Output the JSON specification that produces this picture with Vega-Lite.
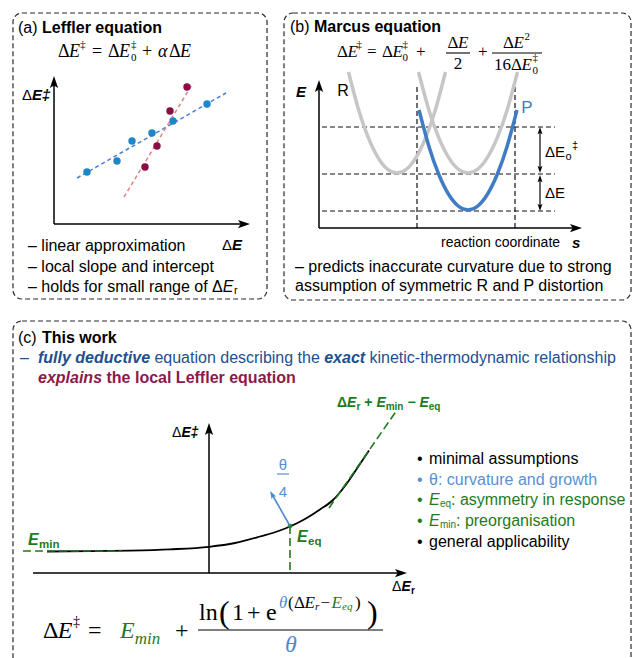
{
"$schema":"https://vega.github.io/schema/vega-lite/v6.json",
"width":632,"height":658,"autosize":{"type":"none"},"padding":0,"background":"#ffffff",
"config":{"view":{"stroke":null}},
"encoding":{
 "x":{"field":"x","type":"quantitative","scale":{"domain":[0,632],"nice":false,"zero":false},"axis":null},
 "y":{"field":"y","type":"quantitative","scale":{"domain":[0,658],"reverse":true,"nice":false,"zero":false},"axis":null}
},
"datasets":{
 "box":[{"x":13,"x2":267,"y":13,"y2":299},{"x":284,"x2":631,"y":13,"y2":300},{"x":13,"x2":631,"y":321,"y2":690}],
 "axis":[{"x":54,"y":224,"x2":54,"y2":82},{"x":54,"y":224,"x2":244,"y2":224},{"x":319,"y":228,"x2":319,"y2":86},{"x":319,"y":228,"x2":576,"y2":228},{"x":209,"y":573,"x2":209,"y2":429},{"x":33,"y":573,"x2":401,"y2":573}],
 "dbl":[{"x":540,"y":131,"x2":540,"y2":170},{"x":540,"y":178,"x2":540,"y2":208}],
 "hUp":[{"x":54,"y":76},{"x":319,"y":80},{"x":209,"y":423}],
 "hRight":[{"x":250,"y":224},{"x":582,"y":228},{"x":407,"y":573}],
 "hsUp":[{"x":540,"y":127},{"x":540,"y":175}],
 "hsDown":[{"x":540,"y":173},{"x":540,"y":211}],
 "hTheta":[{"x":270,"y":491}],
 "bdash":[{"x":322,"y":127,"x2":555,"y2":127},{"x":322,"y":174,"x2":555,"y2":174},{"x":322,"y":211,"x2":555,"y2":211},{"x":417,"y":87,"x2":417,"y2":228},{"x":515,"y":87,"x2":515,"y2":228}],
 "fitB":[{"x":77,"y":178,"x2":226,"y2":93}],
 "fitR":[{"x":124,"y":197,"x2":193,"y2":83}],
 "ptB":[{"x":87,"y":172},{"x":117,"y":161},{"x":132,"y":141},{"x":152,"y":133},{"x":173,"y":121},{"x":207,"y":104}],
 "ptR":[{"x":145,"y":167},{"x":157,"y":146},{"x":170,"y":111},{"x":187,"y":87}],
 "gR":[{"x":348.5,"y":72},{"x":358.2,"y":108.4},{"x":367.9,"y":136.6},{"x":377.6,"y":156.8},{"x":387.3,"y":169},{"x":397,"y":173},{"x":406.7,"y":169},{"x":416.4,"y":156.8},{"x":426.1,"y":136.6},{"x":435.8,"y":108.4},{"x":445.5,"y":72}],
 "gP":[{"x":418.5,"y":72},{"x":428.4,"y":108.4},{"x":438.3,"y":136.6},{"x":448.2,"y":156.8},{"x":458.1,"y":169},{"x":468,"y":173},{"x":477.9,"y":169},{"x":487.8,"y":156.8},{"x":497.7,"y":136.6},{"x":507.6,"y":108.4},{"x":517.5,"y":72}],
 "bP":[{"x":419,"y":110},{"x":428.8,"y":146},{"x":438.6,"y":174},{"x":448.4,"y":194},{"x":458.2,"y":206},{"x":468,"y":210},{"x":477.8,"y":206},{"x":487.6,"y":194},{"x":497.4,"y":174},{"x":507.2,"y":146},{"x":517,"y":110}],
 "curve":[{"x":47,"y":551.5},{"x":90,"y":551.2},{"x":130,"y":550.6},{"x":170,"y":549.3},{"x":209,"y":546.8},{"x":235,"y":543},{"x":260,"y":536.5},{"x":280,"y":530.5},{"x":290,"y":526.5},{"x":305,"y":519},{"x":320,"y":509.5},{"x":333,"y":500},{"x":345,"y":486},{"x":357,"y":468.5},{"x":369,"y":450.5}],
 "gdash":[{"x":23,"y":551,"x2":122,"y2":551},{"x":290,"y":526,"x2":290,"y2":573},{"x":329,"y":508,"x2":397,"y2":410}],
 "dot":[{"x":290,"y":526}],
 "thArr":[{"x":290,"y":526,"x2":273,"y2":496}],
 "bars":[{"x":446,"y":53,"x2":470,"y2":53},{"x":492,"y":53,"x2":542,"y2":53},{"x":198,"y":630,"x2":383,"y2":630}],
 "thBar":[{"x":277,"y":474,"x2":289,"y2":474}],
 "s16":[{"x":18,"y":28,"t":"(a)"},{"x":290,"y":27,"t":"(b)"},{"x":18,"y":338,"t":"(c)"},{"x":28,"y":246,"t":"– linear approximation"},{"x":28,"y":267,"t":"– local slope and intercept"},{"x":28,"y":287,"t":"– holds for small range of Δ"},{"x":295,"y":267,"t":"– predicts inaccurate curvature due to strong"},{"x":295,"y":286,"t":"assumption of symmetric R and P distortion"},{"x":417,"y":459,"t":"•"},{"x":429,"y":459,"t":"minimal assumptions"},{"x":417,"y":542,"t":"•"},{"x":429,"y":542,"t":"general applicability"}],
 "s16b":[{"x":42,"y":28,"t":"Leffler equation"},{"x":314,"y":27,"t":"Marcus equation"},{"x":42,"y":338,"t":"This work"}],
 "s16i":[{"x":222.7,"y":287,"t":"E"}],
 "s11":[{"x":234,"y":291,"t":"r"},{"x":565.5,"y":157,"t":"o"},{"x":572,"y":146,"t":"‡"}],
 "s15":[{"x":545,"y":152,"t":"ΔE"},{"x":545,"y":193,"t":"ΔE"},{"x":22,"y":95,"t":"Δ"},{"x":222,"y":245,"t":"Δ"}],
 "s14":[{"x":441,"y":243,"t":"reaction coordinate"},{"x":172,"y":433,"t":"Δ"},{"x":392,"y":587,"t":"Δ"}],
 "sBI15":[{"x":296,"y":92,"t":"E"},{"x":572,"y":243,"t":"s"},{"x":32,"y":95,"t":"E‡"},{"x":232,"y":245,"t":"E"}],
 "sBI14":[{"x":181.5,"y":433,"t":"E‡"},{"x":401.5,"y":587,"t":"E"}],
 "sB10":[{"x":411,"y":591,"t":"r"}],
 "cBlack":[{"x":343,"y":91,"t":"R"}],
 "gBI16":[{"x":28,"y":540,"t":"E"},{"x":297,"y":537,"t":"E"}],
 "gB11":[{"x":39,"y":545,"t":"min"},{"x":308,"y":542,"t":"eq"}],
 "gB14":[{"x":337,"y":403,"t":"Δ"},{"x":364.3,"y":403,"t":"+"},{"x":407.4,"y":403,"t":"−"}],
 "gBI14":[{"x":347,"y":403,"t":"E"},{"x":376.4,"y":403,"t":"E"},{"x":419.5,"y":403,"t":"E"}],
 "gB10":[{"x":356.5,"y":407,"t":"r"},{"x":385.7,"y":407,"t":"min"},{"x":428.8,"y":407,"t":"eq"}],
 "gR16":[{"x":417,"y":500,"t":"•"},{"x":417,"y":521,"t":"•"},{"x":451,"y":500,"t":": asymmetry in response"},{"x":456,"y":521,"t":": preorganisation"}],
 "gI16":[{"x":429,"y":500,"t":"E"},{"x":429,"y":521,"t":"E"}],
 "gR10":[{"x":440,"y":504,"t":"eq"},{"x":440,"y":525,"t":"min"}],
 "lbR16":[{"x":417,"y":480,"t":"•"},{"x":429,"y":480,"t":"θ: curvature and growth"}],
 "lbC15":[{"x":283,"y":465,"t":"θ"},{"x":283,"y":492,"t":"4"}],
 "pLab":[{"x":527,"y":108,"t":"P"}],
 "nR16":[{"x":20,"y":358,"t":"–"},{"x":154.4,"y":358,"t":"equation describing the"},{"x":369.5,"y":358,"t":"kinetic-thermodynamic relationship"}],
 "nBI16":[{"x":38,"y":358,"t":"fully deductive"},{"x":324.2,"y":358,"t":"exact"}],
 "mBI16":[{"x":38,"y":378,"t":"explains"}],
 "mB16":[{"x":106.5,"y":378,"t":"the local Leffler equation"}],
 "sU18":[{"x":58,"y":52,"t":"Δ"},{"x":92,"y":52,"t":"="},{"x":108,"y":52,"t":"Δ"},{"x":142,"y":52,"t":"+"},{"x":169,"y":52,"t":"Δ"}],
 "sI18":[{"x":69,"y":52,"t":"E"},{"x":119,"y":52,"t":"E"},{"x":158,"y":52,"t":"α"},{"x":180,"y":52,"t":"E"}],
 "sU11":[{"x":80,"y":45,"t":"‡"},{"x":131,"y":45,"t":"‡"},{"x":131,"y":58,"t":"0"},{"x":356.5,"y":45,"t":"‡"},{"x":402.5,"y":45,"t":"‡"},{"x":402.5,"y":58,"t":"0"},{"x":524.5,"y":37,"t":"2"},{"x":532.5,"y":58,"t":"‡"},{"x":532.5,"y":71,"t":"0"}],
 "sU17":[{"x":337,"y":52,"t":"Δ"},{"x":367,"y":52,"t":"="},{"x":382,"y":52,"t":"Δ"},{"x":416,"y":52,"t":"+"},{"x":478,"y":52,"t":"+"},{"x":447.6,"y":43,"t":"Δ"},{"x":453.8,"y":64,"t":"2"},{"x":503,"y":43,"t":"Δ"},{"x":494,"y":65,"t":"16"},{"x":511,"y":65,"t":"Δ"}],
 "sI17":[{"x":347.4,"y":52,"t":"E"},{"x":392.4,"y":52,"t":"E"},{"x":458,"y":43,"t":"E"},{"x":513.4,"y":43,"t":"E"},{"x":521.4,"y":65,"t":"E"}],
 "sU24":[{"x":43,"y":631,"t":"Δ"},{"x":88,"y":631,"t":"="},{"x":175,"y":631,"t":"+"},{"x":199,"y":613,"t":"ln"},{"x":232,"y":613,"t":"1"},{"x":247,"y":613,"t":"+"},{"x":266,"y":613,"t":"e"}],
 "sI24":[{"x":57.7,"y":631,"t":"E"}],
 "sU14":[{"x":73,"y":622,"t":"‡"}],
 "gI24":[{"x":120,"y":631,"t":"E"}],
 "gI17":[{"x":134.7,"y":639,"t":"min"}],
 "sU32":[{"x":219,"y":613,"t":"("},{"x":367,"y":613,"t":")"}],
 "sU16e":[{"x":288,"y":603,"t":"("},{"x":294,"y":603,"t":"Δ"},{"x":320.5,"y":603,"t":"−"},{"x":355,"y":603,"t":")"}],
 "sI16e":[{"x":304.4,"y":603,"t":"E"}],
 "sI11e":[{"x":315,"y":607,"t":"r"}],
 "gI16e":[{"x":331.5,"y":603,"t":"E"}],
 "gI11e":[{"x":342,"y":607,"t":"eq"}],
 "bI16e":[{"x":279,"y":603,"t":"θ"}],
 "bI24":[{"x":285,"y":645,"t":"θ"}]
},
"layer":[
 {"data":{"name":"box"},"mark":{"type":"rect","filled":false,"color":"#2a2a2a","strokeWidth":1.2,"strokeDash":[5,3],"cornerRadius":9,"clip":true},"encoding":{"x2":{"field":"x2"},"y2":{"field":"y2"}}},
 {"data":{"name":"bdash"},"mark":{"type":"rule","color":"#111","strokeWidth":1.2,"strokeDash":[5,3]},"encoding":{"x2":{"field":"x2"},"y2":{"field":"y2"}}},
 {"data":{"name":"gR"},"mark":{"type":"line","color":"#c6c6c6","strokeWidth":3.5,"interpolate":"natural"},"encoding":{}},
 {"data":{"name":"gP"},"mark":{"type":"line","color":"#c6c6c6","strokeWidth":3.5,"interpolate":"natural"},"encoding":{}},
 {"data":{"name":"bP"},"mark":{"type":"line","color":"#3f7cc4","strokeWidth":3.5,"interpolate":"natural"},"encoding":{}},
 {"data":{"name":"fitB"},"mark":{"type":"rule","color":"#4b7fd2","strokeWidth":1.5,"strokeDash":[4,3]},"encoding":{"x2":{"field":"x2"},"y2":{"field":"y2"}}},
 {"data":{"name":"fitR"},"mark":{"type":"rule","color":"#e08585","strokeWidth":1.5,"strokeDash":[4,3]},"encoding":{"x2":{"field":"x2"},"y2":{"field":"y2"}}},
 {"data":{"name":"ptB"},"mark":{"type":"circle","size":55,"color":"#1b87c9","opacity":1},"encoding":{}},
 {"data":{"name":"ptR"},"mark":{"type":"circle","size":55,"color":"#8a0e46","opacity":1},"encoding":{}},
 {"data":{"name":"axis"},"mark":{"type":"rule","color":"#000","strokeWidth":1.5},"encoding":{"x2":{"field":"x2"},"y2":{"field":"y2"}}},
 {"data":{"name":"dbl"},"mark":{"type":"rule","color":"#000","strokeWidth":1.2},"encoding":{"x2":{"field":"x2"},"y2":{"field":"y2"}}},
 {"data":{"name":"hUp"},"mark":{"type":"point","shape":"M0,0L0.55,1.6L0,1.25L-0.55,1.6Z","size":225,"filled":true,"color":"#000","opacity":1,"angle":0},"encoding":{}},
 {"data":{"name":"hRight"},"mark":{"type":"point","shape":"M0,0L0.55,1.6L0,1.25L-0.55,1.6Z","size":225,"filled":true,"color":"#000","opacity":1,"angle":90},"encoding":{}},
 {"data":{"name":"hsUp"},"mark":{"type":"point","shape":"M0,0L0.55,1.6L0,1.25L-0.55,1.6Z","size":81,"filled":true,"color":"#000","opacity":1,"angle":0},"encoding":{}},
 {"data":{"name":"hsDown"},"mark":{"type":"point","shape":"M0,0L0.55,1.6L0,1.25L-0.55,1.6Z","size":81,"filled":true,"color":"#000","opacity":1,"angle":180},"encoding":{}},
 {"data":{"name":"curve"},"mark":{"type":"line","color":"#000","strokeWidth":1.8,"interpolate":"monotone"},"encoding":{}},
 {"data":{"name":"gdash"},"mark":{"type":"rule","color":"#1e7b1e","strokeWidth":1.6,"strokeDash":[8,4]},"encoding":{"x2":{"field":"x2"},"y2":{"field":"y2"}}},
 {"data":{"name":"dot"},"mark":{"type":"circle","size":22,"color":"#1e7b1e","opacity":1},"encoding":{}},
 {"data":{"name":"thArr"},"mark":{"type":"rule","color":"#4f8ad0","strokeWidth":1.6},"encoding":{"x2":{"field":"x2"},"y2":{"field":"y2"}}},
 {"data":{"name":"hTheta"},"mark":{"type":"point","shape":"M0,0L0.55,1.6L0,1.25L-0.55,1.6Z","size":100,"filled":true,"color":"#4f8ad0","opacity":1,"angle":330},"encoding":{}},
 {"data":{"name":"bars"},"mark":{"type":"rule","color":"#000","strokeWidth":1.1},"encoding":{"x2":{"field":"x2"},"y2":{"field":"y2"}}},
 {"data":{"name":"thBar"},"mark":{"type":"rule","color":"#5b8fd4","strokeWidth":1.2},"encoding":{"x2":{"field":"x2"},"y2":{"field":"y2"}}},
 {"data":{"name":"s16"},"mark":{"type":"text","align":"left","baseline":"middle","font":"Liberation Sans","fontSize":16,"color":"#000"},"encoding":{"text":{"field":"t"}}},
 {"data":{"name":"s16b"},"mark":{"type":"text","align":"left","baseline":"middle","font":"Liberation Sans","fontSize":16,"fontWeight":"bold","color":"#000"},"encoding":{"text":{"field":"t"}}},
 {"data":{"name":"s16i"},"mark":{"type":"text","align":"left","baseline":"middle","font":"Liberation Sans","fontSize":16,"fontStyle":"italic","color":"#000"},"encoding":{"text":{"field":"t"}}},
 {"data":{"name":"s11"},"mark":{"type":"text","align":"left","baseline":"middle","font":"Liberation Sans","fontSize":11,"color":"#000"},"encoding":{"text":{"field":"t"}}},
 {"data":{"name":"s15"},"mark":{"type":"text","align":"left","baseline":"middle","font":"Liberation Sans","fontSize":15,"color":"#000"},"encoding":{"text":{"field":"t"}}},
 {"data":{"name":"s14"},"mark":{"type":"text","align":"left","baseline":"middle","font":"Liberation Sans","fontSize":14,"color":"#000"},"encoding":{"text":{"field":"t"}}},
 {"data":{"name":"sBI15"},"mark":{"type":"text","align":"left","baseline":"middle","font":"Liberation Sans","fontSize":15,"fontWeight":"bold","fontStyle":"italic","color":"#000"},"encoding":{"text":{"field":"t"}}},
 {"data":{"name":"sBI14"},"mark":{"type":"text","align":"left","baseline":"middle","font":"Liberation Sans","fontSize":14,"fontWeight":"bold","fontStyle":"italic","color":"#000"},"encoding":{"text":{"field":"t"}}},
 {"data":{"name":"sB10"},"mark":{"type":"text","align":"left","baseline":"middle","font":"Liberation Sans","fontSize":10,"fontWeight":"bold","color":"#000"},"encoding":{"text":{"field":"t"}}},
 {"data":{"name":"cBlack"},"mark":{"type":"text","align":"center","baseline":"middle","font":"Liberation Sans","fontSize":16,"color":"#000"},"encoding":{"text":{"field":"t"}}},
 {"data":{"name":"gBI16"},"mark":{"type":"text","align":"left","baseline":"middle","font":"Liberation Sans","fontSize":16,"fontWeight":"bold","fontStyle":"italic","color":"#1e7b1e"},"encoding":{"text":{"field":"t"}}},
 {"data":{"name":"gB11"},"mark":{"type":"text","align":"left","baseline":"middle","font":"Liberation Sans","fontSize":11.5,"fontWeight":"bold","color":"#1e7b1e"},"encoding":{"text":{"field":"t"}}},
 {"data":{"name":"gB14"},"mark":{"type":"text","align":"left","baseline":"middle","font":"Liberation Sans","fontSize":14,"fontWeight":"bold","color":"#1e7b1e"},"encoding":{"text":{"field":"t"}}},
 {"data":{"name":"gBI14"},"mark":{"type":"text","align":"left","baseline":"middle","font":"Liberation Sans","fontSize":14,"fontWeight":"bold","fontStyle":"italic","color":"#1e7b1e"},"encoding":{"text":{"field":"t"}}},
 {"data":{"name":"gB10"},"mark":{"type":"text","align":"left","baseline":"middle","font":"Liberation Sans","fontSize":10,"fontWeight":"bold","color":"#1e7b1e"},"encoding":{"text":{"field":"t"}}},
 {"data":{"name":"gR16"},"mark":{"type":"text","align":"left","baseline":"middle","font":"Liberation Sans","fontSize":16,"color":"#1e7b1e"},"encoding":{"text":{"field":"t"}}},
 {"data":{"name":"gI16"},"mark":{"type":"text","align":"left","baseline":"middle","font":"Liberation Sans","fontSize":16,"fontStyle":"italic","color":"#1e7b1e"},"encoding":{"text":{"field":"t"}}},
 {"data":{"name":"gR10"},"mark":{"type":"text","align":"left","baseline":"middle","font":"Liberation Sans","fontSize":10,"color":"#1e7b1e"},"encoding":{"text":{"field":"t"}}},
 {"data":{"name":"lbR16"},"mark":{"type":"text","align":"left","baseline":"middle","font":"Liberation Sans","fontSize":16,"color":"#5b8fd4"},"encoding":{"text":{"field":"t"}}},
 {"data":{"name":"lbC15"},"mark":{"type":"text","align":"center","baseline":"middle","font":"Liberation Sans","fontSize":15,"color":"#5b8fd4"},"encoding":{"text":{"field":"t"}}},
 {"data":{"name":"pLab"},"mark":{"type":"text","align":"center","baseline":"middle","font":"Liberation Sans","fontSize":17,"color":"#3f7cc4"},"encoding":{"text":{"field":"t"}}},
 {"data":{"name":"nR16"},"mark":{"type":"text","align":"left","baseline":"middle","font":"Liberation Sans","fontSize":16,"color":"#1d4f91"},"encoding":{"text":{"field":"t"}}},
 {"data":{"name":"nBI16"},"mark":{"type":"text","align":"left","baseline":"middle","font":"Liberation Sans","fontSize":16,"fontWeight":"bold","fontStyle":"italic","color":"#1d4f91"},"encoding":{"text":{"field":"t"}}},
 {"data":{"name":"mBI16"},"mark":{"type":"text","align":"left","baseline":"middle","font":"Liberation Sans","fontSize":16,"fontWeight":"bold","fontStyle":"italic","color":"#8b1a4c"},"encoding":{"text":{"field":"t"}}},
 {"data":{"name":"mB16"},"mark":{"type":"text","align":"left","baseline":"middle","font":"Liberation Sans","fontSize":16,"fontWeight":"bold","color":"#8b1a4c"},"encoding":{"text":{"field":"t"}}},
 {"data":{"name":"sU18"},"mark":{"type":"text","align":"left","baseline":"middle","font":"Liberation Serif","fontSize":18,"color":"#000"},"encoding":{"text":{"field":"t"}}},
 {"data":{"name":"sI18"},"mark":{"type":"text","align":"left","baseline":"middle","font":"Liberation Serif","fontSize":18,"fontStyle":"italic","color":"#000"},"encoding":{"text":{"field":"t"}}},
 {"data":{"name":"sU11"},"mark":{"type":"text","align":"left","baseline":"middle","font":"Liberation Serif","fontSize":11,"color":"#000"},"encoding":{"text":{"field":"t"}}},
 {"data":{"name":"sU17"},"mark":{"type":"text","align":"left","baseline":"middle","font":"Liberation Serif","fontSize":17,"color":"#000"},"encoding":{"text":{"field":"t"}}},
 {"data":{"name":"sI17"},"mark":{"type":"text","align":"left","baseline":"middle","font":"Liberation Serif","fontSize":17,"fontStyle":"italic","color":"#000"},"encoding":{"text":{"field":"t"}}},
 {"data":{"name":"sU24"},"mark":{"type":"text","align":"left","baseline":"middle","font":"Liberation Serif","fontSize":24,"color":"#000"},"encoding":{"text":{"field":"t"}}},
 {"data":{"name":"sI24"},"mark":{"type":"text","align":"left","baseline":"middle","font":"Liberation Serif","fontSize":24,"fontStyle":"italic","color":"#000"},"encoding":{"text":{"field":"t"}}},
 {"data":{"name":"sU14"},"mark":{"type":"text","align":"left","baseline":"middle","font":"Liberation Serif","fontSize":14,"color":"#000"},"encoding":{"text":{"field":"t"}}},
 {"data":{"name":"gI24"},"mark":{"type":"text","align":"left","baseline":"middle","font":"Liberation Serif","fontSize":24,"fontStyle":"italic","color":"#1e7b1e"},"encoding":{"text":{"field":"t"}}},
 {"data":{"name":"gI17"},"mark":{"type":"text","align":"left","baseline":"middle","font":"Liberation Serif","fontSize":17,"fontStyle":"italic","color":"#1e7b1e"},"encoding":{"text":{"field":"t"}}},
 {"data":{"name":"sU32"},"mark":{"type":"text","align":"left","baseline":"middle","font":"Liberation Serif","fontSize":32,"color":"#000"},"encoding":{"text":{"field":"t"}}},
 {"data":{"name":"sU16e"},"mark":{"type":"text","align":"left","baseline":"middle","font":"Liberation Serif","fontSize":17,"color":"#000"},"encoding":{"text":{"field":"t"}}},
 {"data":{"name":"sI16e"},"mark":{"type":"text","align":"left","baseline":"middle","font":"Liberation Serif","fontSize":17,"fontStyle":"italic","color":"#000"},"encoding":{"text":{"field":"t"}}},
 {"data":{"name":"sI11e"},"mark":{"type":"text","align":"left","baseline":"middle","font":"Liberation Serif","fontSize":11,"fontStyle":"italic","color":"#000"},"encoding":{"text":{"field":"t"}}},
 {"data":{"name":"gI16e"},"mark":{"type":"text","align":"left","baseline":"middle","font":"Liberation Serif","fontSize":17,"fontStyle":"italic","color":"#1e7b1e"},"encoding":{"text":{"field":"t"}}},
 {"data":{"name":"gI11e"},"mark":{"type":"text","align":"left","baseline":"middle","font":"Liberation Serif","fontSize":11,"fontStyle":"italic","color":"#1e7b1e"},"encoding":{"text":{"field":"t"}}},
 {"data":{"name":"bI16e"},"mark":{"type":"text","align":"left","baseline":"middle","font":"Liberation Serif","fontSize":17,"fontStyle":"italic","color":"#4f8ad0"},"encoding":{"text":{"field":"t"}}},
 {"data":{"name":"bI24"},"mark":{"type":"text","align":"left","baseline":"middle","font":"Liberation Serif","fontSize":24,"fontStyle":"italic","color":"#4f8ad0"},"encoding":{"text":{"field":"t"}}}
]
}
